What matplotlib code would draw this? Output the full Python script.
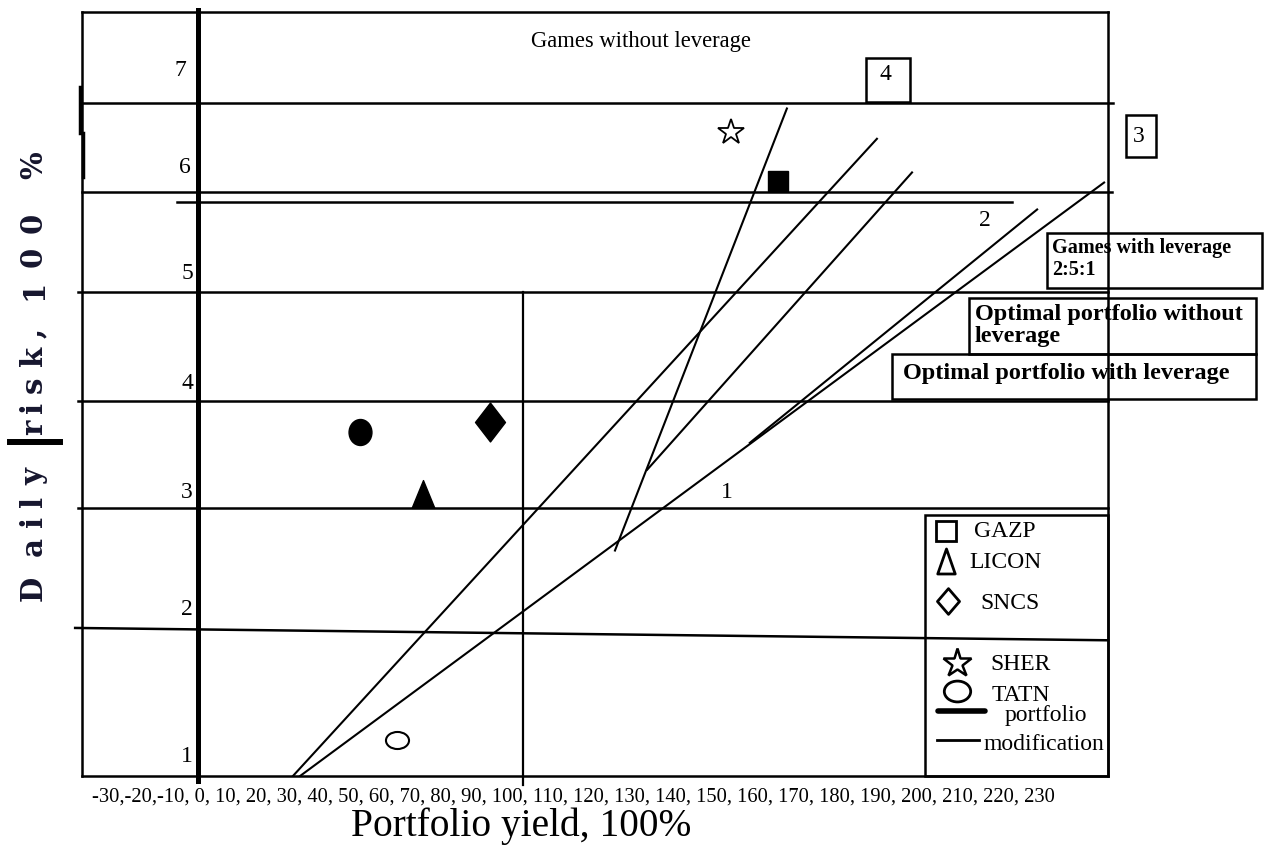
import matplotlib.pyplot as plt
from matplotlib.path import Path
from matplotlib.patches import Rectangle
from matplotlib.transforms import Affine2D

plt.rcParams['font.family'] = 'Liberation Serif'

# risk scale labels (shown left of the zero line)
risk_labels = ['7', '6', '5', '4', '3', '2', '1']
risk_label_y = [7.29, 6.42, 5.48, 4.50, 3.53, 2.48, 1.17]
risk_label_x = [-5.5, -4.0, -3.4, -3.4, -3.4, -3.4, -3.4]

# horizontal risk levels
level_y = [7.0, 6.21, 5.31, 4.34, 3.39]
level_x0 = [-35.7, -35.7, -37.0, -37.0, -37.0]
level_x1 = [281.5, 281.2, 280.0, 280.0, 280.0]
# level near 2 is drawn a bit tilted
level2_x = [-37.8, 280.0]
level2_y = [2.32, 2.21]
# line 2 just under level 6
line2_x = [-6.5, 250.5]
line2_y = [6.116, 6.116]

# yield 100 marker line
yield100_x = [100, 100]
yield100_y = [5.31, 0.92]

# modification lines (yield, risk)
mod_a_x = [29.2, 208.9]
mod_a_y = [1.0, 6.68]
mod_b_x = [31.4, 278.8]
mod_b_y = [1.0, 6.29]
mod_c_x = [169.8, 258.2]
mod_c_y = [3.97, 6.05]
mod_d_x = [128.3, 181.2]
mod_d_y = [3.01, 6.95]
mod_e_x = [138.2, 219.7]
mod_e_y = [3.73, 6.38]

# stocks: yield, risk
gazp = (178.5, 6.30)
licon = (69.2, 3.51)
sncs = (89.8, 4.16)
sher = (164.0, 6.74)
tatn = (61.2, 1.32)
extra_point = (49.8, 4.07)

xtick_text = ("-30,-20,-10, 0, 10, 20, 30, 40, 50, 60, 70, 80, 90, 100, 110, 120, "
              "130, 140, 150, 160, 170, 180, 190, 200, 210, 220, 230")

# y axis title, written letter by letter (widely spaced in the original)
ylabel_chars = ['D', 'a', 'i', 'l', 'y', 'r', 'i', 's', 'k', ',', '1', '0', '0', '%']
ylabel_pos = [2.676, 3.05, 3.273, 3.451, 3.674, 4.11, 4.289, 4.485, 4.743, 4.948,
              5.332, 5.626, 5.929, 6.446]


def ellipse(sx, sy):
    return Affine2D().scale(sx, sy).transform_path(Path.unit_circle())


def triangle(r):
    return Path([(-r, -0.5), (r, -0.5), (0, 0.5), (-r, -0.5)], closed=True)


def diamond(r):
    return Path([(0, 0.5), (r, 0), (0, -0.5), (-r, 0), (0, 0.5)], closed=True)


def box(ax, x0, x1, y0, y1):
    ax.add_patch(Rectangle((x0, y0), x1 - x0, y1 - y0, fill=False,
                           edgecolor='black', linewidth=1.8, clip_on=False, zorder=3))


fig = plt.figure(figsize=(12.67, 8.46), dpi=100)
ax = fig.add_axes([0.0647, 0.0827, 0.8098, 0.9031])
ax.set_xlim(-35.7, 280.0)
ax.set_ylim(1.0, 7.81)
ax.set_xticks([])
ax.set_yticks([])
for s in ax.spines.values():
    s.set_linewidth(1.8)

# grid-like levels
for y, x0, x1 in zip(level_y, level_x0, level_x1):
    ax.plot([x0, x1], [y, y], color='black', lw=1.8, clip_on=False)
ax.plot(level2_x, level2_y, color='black', lw=1.8, clip_on=False)
ax.plot(line2_x, line2_y, color='black', lw=1.8)
ax.plot(yield100_x, yield100_y, color='black', lw=1.6, clip_on=False)

# zero yield axis
ax.plot([0, 0], [0.96, 7.83], color='black', lw=3.6, clip_on=False, zorder=4)

# left bracket mark
ax.plot([-36.3, -36.3], [7.14, 6.73], color='black', lw=2.5, clip_on=False)
ax.plot([-35.4, -35.4], [6.73, 6.34], color='black', lw=2.5, clip_on=False)

# modification lines
for xs, ys in [(mod_a_x, mod_a_y), (mod_b_x, mod_b_y), (mod_c_x, mod_c_y),
               (mod_d_x, mod_d_y), (mod_e_x, mod_e_y)]:
    ax.plot(xs, ys, color='black', lw=1.5)

# stocks on the chart
ax.plot(*gazp, marker='s', ms=14.4, color='black', ls='none')
ax.plot(*licon, marker=triangle(0.41), ms=20, color='black', ls='none')
ax.plot(*sncs, marker=diamond(0.385), ms=28, color='black', ls='none')
ax.plot(*sher, marker='*', ms=19, mfc='white', mec='black', mew=1.3, ls='none')
ax.plot(*tatn, marker=ellipse(1, 0.74), ms=16.6, mfc='white', mec='black', mew=1.5, ls='none')
ax.plot(*extra_point, marker=ellipse(0.88, 1), ms=18.7, color='black', ls='none')

# risk labels
for lab, x, y in zip(risk_labels, risk_label_x, risk_label_y):
    ax.text(x, y, lab, fontsize=17, ha='center', va='center')

ax.text(136.3, 7.55, 'Games without leverage', fontsize=16.3, ha='center', va='center')
ax.text(162.8, 3.53, '1', fontsize=17, ha='center', va='center')
ax.text(242.2, 5.955, '2', fontsize=17, ha='center', va='center')

# numbered boxes
box(ax, 205.5, 219.1, 7.007, 7.40)
ax.text(211.4, 7.25, '4', fontsize=17, ha='center', va='center')
box(ax, 285.5, 294.8, 6.517, 6.891)
ax.text(289.5, 6.704, '3', fontsize=17, ha='center', va='center')

# explanation boxes
box(ax, 261.2, 327.4, 5.349, 5.840)
ax.text(262.8, 5.61, 'Games with leverage\n2:5:1', fontsize=14.5, fontweight='bold',
        ha='left', va='center', linespacing=1.12)
box(ax, 237.2, 325.5, 4.761, 5.260)
ax.text(239.1, 5.015, 'Optimal portfolio without\nleverage', fontsize=17.5, fontweight='bold',
        ha='left', va='center', linespacing=1.1)
box(ax, 213.5, 325.5, 4.360, 4.761)
ax.text(216.9, 4.59, 'Optimal portfolio with leverage', fontsize=17.5, fontweight='bold',
        ha='left', va='center')

# legend
box(ax, 223.7, 280.0, 1.0, 3.326)
ax.plot(230.2, 3.184, marker='s', ms=14, mfc='white', mec='black', mew=2, ls='none')
ax.plot(230.2, 2.916, marker=triangle(0.35), ms=18, mfc='white', mec='black', mew=2, ls='none')
ax.plot(230.8, 2.560, marker=diamond(0.43), ms=18.5, mfc='white', mec='black', mew=2, ls='none')
ax.plot(233.5, 2.007, marker='*', ms=21, mfc='white', mec='black', mew=1.8, ls='none')
ax.plot(233.5, 1.758, marker=ellipse(1, 0.79), ms=19, mfc='white', mec='black', mew=2, ls='none')
ax.plot([227.7, 242.2], [1.579, 1.579], color='black', lw=4, solid_capstyle='round')
ax.plot([227.4, 240.3], [1.321, 1.321], color='black', lw=2)
leg_kw = dict(fontsize=17, ha='left', va='center')
ax.text(238.8, 3.184, 'GAZP', **leg_kw)
ax.text(237.2, 2.907, 'LICON', **leg_kw)
ax.text(240.6, 2.542, 'SNCS', **leg_kw)
ax.text(243.7, 1.998, 'SHER', **leg_kw)
ax.text(244.3, 1.722, 'TATN', **leg_kw)
ax.text(248.3, 1.544, 'portfolio', **leg_kw)
ax.text(241.8, 1.285, 'modification', **leg_kw)

# axis texts
ax.text(-32.6, 0.813, xtick_text, fontsize=14.8, ha='left', va='center', clip_on=False)
ax.text(99.4, 0.554, 'Portfolio yield, 100%', fontsize=28.4, ha='center', va='center', clip_on=False)
for ch, y in zip(ylabel_chars, ylabel_pos):
    ax.text(-48.0, y, ch, fontsize=21, fontweight='bold', family='DejaVu Serif', color='#16162e',
            rotation=90, rotation_mode='anchor', ha='center', va='baseline', clip_on=False)
ax.plot([-57.8, -42.5], [3.977, 3.977], color='black', lw=4.3, clip_on=False)

fig.savefig('out.png', dpi=100)
